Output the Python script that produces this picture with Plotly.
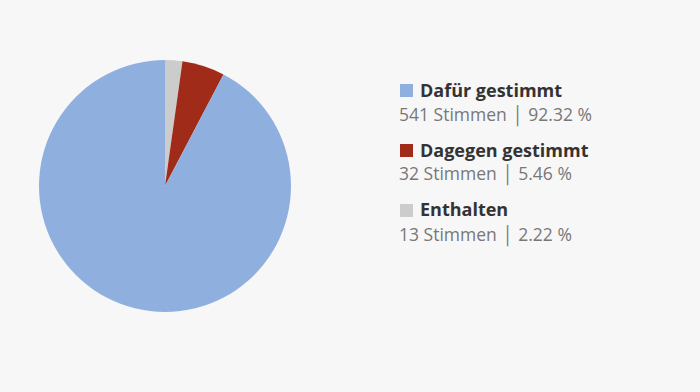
import plotly.graph_objects as go

labels = ["Enthalten", "Dagegen gestimmt", "Dafür gestimmt"]
votes = [13, 32, 541]
percents = [2.22, 5.46, 92.32]
colors = ["#CCCCCC", "#A02B18", "#8FB0DF"]
legend_order = [2, 1, 0]

W, H = 700, 392
BG = "#F7F7F7"

fig = go.Figure()
fig.add_trace(go.Pie(
    labels=labels, values=votes, sort=False, direction="clockwise", rotation=0,
    marker=dict(colors=colors, line=dict(width=0)),
    textinfo="none", hoverinfo="label+value+percent", showlegend=False,
    domain=dict(x=[(165-126)/W, (165+126)/W], y=[(H-312)/H, (H-60)/H]),
))

def px(x): return x / W
def py(y): return 1 - y / H

annotations = []
shapes = []
for k, i in enumerate(legend_order):
    ty = 91 + 60 * k
    shapes.append(dict(type="rect", xref="paper", yref="paper",
                       x0=px(400), x1=px(413), y0=py(ty - 7), y1=py(ty + 6),
                       fillcolor=colors[i], line=dict(width=0)))
    annotations.append(dict(xref="paper", yref="paper", x=px(419), y=py(ty + 11.5),
                            xanchor="left", yanchor="bottom", showarrow=False,
                            borderpad=0,
                            text=f"<b>{labels[i]}</b>",
                            font=dict(family="Open Sans", size=18, color="#333333")))
    annotations.append(dict(xref="paper", yref="paper", x=px(398), y=py(ty + 9.5),
                            xanchor="left", yanchor="top", showarrow=False,
                            borderpad=0,
                            text=f"{votes[i]} Stimmen │ {percents[i]:.2f} %",
                            font=dict(family="Open Sans", size=17.5, color="#777777")))

fig.update_layout(
    width=W, height=H, margin=dict(l=0, r=0, t=0, b=0),
    paper_bgcolor=BG, plot_bgcolor=BG,
    annotations=annotations, shapes=shapes,
)
fig.write_html("out.html")
